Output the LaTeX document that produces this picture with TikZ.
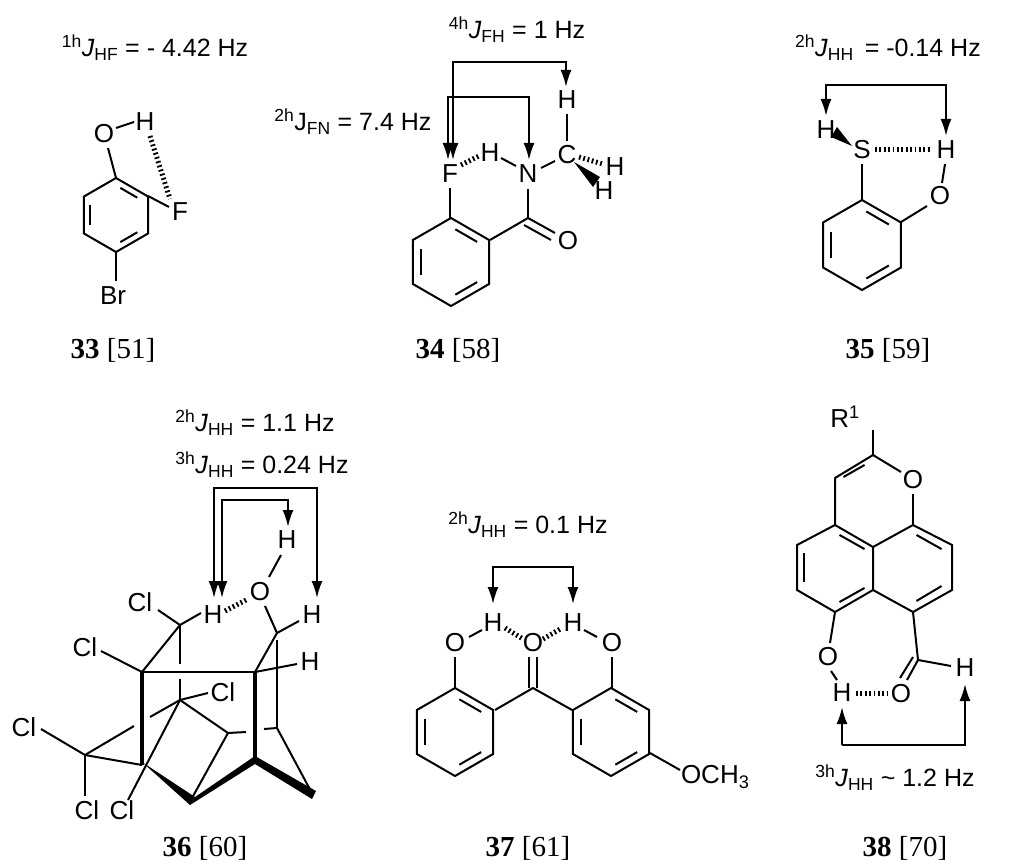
\documentclass[tikz,border=0pt]{standalone}
\usepackage{fontspec}
\setmainfont{Liberation Sans}
\newfontfamily\serif{Liberation Serif}
\usetikzlibrary{arrows.meta}
\newcommand\hexr[4]{%
\draw ({#1+#3*cos(-90)},{#2+#3*sin(-90)}) \foreach \a in {-30,30,90,150,210}{ -- ({#1+#3*cos(\a)},{#2+#3*sin(\a)})} -- cycle;
\foreach \a in {#4}{\draw[shorten <=5pt, shorten >=5pt] ({#1+0.8*#3*cos(\a)},{#2+0.8*#3*sin(\a)}) -- ({#1+0.8*#3*cos(\a+60)},{#2+0.8*#3*sin(\a+60)});}}
\newcommand\Jl[2]{\textsuperscript{#1}\textit{J}\textsubscript{#2}}
\tikzset{atom/.style={inner sep=0pt,font=\fontsize{26}{28}\selectfont},
 lab/.style={inner sep=0pt,font=\fontsize{25}{28}\selectfont},
 cpd/.style={inner sep=0pt,font=\serif\fontsize{29}{32}\selectfont},
 arr/.style={-{Latex[length=17pt,width=11pt]}},
 hash/.style={dash pattern=on 1.8pt off 2.6pt,line width=6pt},
 wedge/.style={fill=black}}
\begin{document}
\begin{tikzpicture}[x=1pt,y=-1pt,line width=2pt]
\useasboundingbox[fill=white] (0,0) rectangle (1024,866);
% ---------- 33
\node[lab] (l33) at (155,48) {\Jl{1h}{HF} = - 4.42 Hz};
\hexr{116}{215}{37}{-90,30,150}
\node[atom] (o33) at (104,134) {O};
\node[atom] (h33) at (145,122) {H};
\node[atom] (f33) at (180,212) {F};
\node[atom] (br33) at (113,296) {Br};
\draw (108,148) -- (116,178);
\draw (116,128) -- (134,122);
\draw (148,196) -- (169,207);
\draw (116,252) -- (116,281);
\draw[hash,line width=5pt] (150,136) -- (170,199);
\node[cpd] (n33) at (113,350) {\textbf{33} [51]};
% ---------- 34
\node[lab] (l34) at (517,30) {\Jl{4h}{FH} = 1 Hz};
\node[lab] (l34b) at (353,122) {\textsuperscript{2h}J\textsubscript{FN} = 7.4 Hz};
\hexr{451}{262}{44}{-90,30,150}
\node[atom] (f34) at (450,174) {F};
\node[atom] (h34) at (490,153) {H};
\node[atom] (n34) at (528,174) {N};
\node[atom] (c34) at (567,155) {C};
\node[atom] (ht34) at (567,100) {H};
\node[atom] (hr34) at (615,167) {H};
\node[atom] (hb34) at (604,191) {H};
\node[atom] (o34) at (568,241) {O};
\draw (450,188) -- (450,218);
\draw (490,240) -- (528,218);
\draw (528,189) -- (528,218);
\draw (528,218) -- (555,233);
\draw (524,225) -- (551,240);
\draw (501,158) -- (516,166);
\draw (541,168) -- (555,161);
\draw (567,114) -- (567,141);
\draw[hash,line width=5pt] (461,165) -- (479,156);
\draw[hash,line width=5pt] (579,157) -- (603,164);
\fill (574,162) -- (600,177) -- (593,187) -- cycle;
\draw[arr] (453,62) -- (566,62) -- (566,87);
\draw[arr] (566,62) -- (453,62) -- (453,160);
\draw[arr] (448,97) -- (529,97) -- (529,160);
\draw[arr] (529,97) -- (448,97) -- (448,160);
\node[cpd] (n34) at (458,350) {\textbf{34} [58]};
% ---------- 35
\node[lab] (l35) at (888,48) {\Jl{2h}{HH}\, = -0.14 Hz};
\hexr{862}{245}{45}{-90,30,150}
\node[atom] (s35) at (862,150) {S};
\node[atom] (hl35) at (826,130) {H};
\node[atom] (hr35) at (946,150) {H};
\node[atom] (o35) at (940,196) {O};
\draw (862,164) -- (862,200);
\draw (901,222) -- (927,206);
\draw (942,183) -- (945,164);
\draw[hash,line width=5pt] (875,150) -- (932,150);
\fill (852,146) -- (831,137) -- (837,127) -- cycle;
\draw[arr] (946,85) -- (826,85) -- (826,116);
\draw[arr] (826,85) -- (946,85) -- (946,136);
\node[cpd] (n35) at (888,350) {\textbf{35} [59]};
% ---------- 36
\node[lab] (l36a) at (255,423) {\Jl{2h}{HH} = 1.1 Hz};
\node[lab] (l36b) at (262,465) {\Jl{3h}{HH} = 0.24 Hz};
\node[atom] (ho36) at (287,540) {H};
\node[atom] (o36) at (260,592) {O};
\node[atom] (hl36) at (213,615) {H};
\node[atom] (hr36) at (312,615) {H};
\node[atom] (hh36) at (310,662) {H};
\node[atom] (cl1) at (140,602) {Cl};
\node[atom] (cl2) at (85,647) {Cl};
\node[atom] (cl3) at (223,692) {Cl};
\node[atom] (cl4) at (24,727) {Cl};
\node[atom] (cl5) at (87,810) {Cl};
\node[atom] (cl6) at (122,810) {Cl};
\draw (281,555) -- (269,577);
\draw (265,606) -- (277,633) -- (299,621);
\draw[hash,line width=5pt] (225,611) -- (248,599);
\draw (180,625) -- (201,613);
\draw (180,625) -- (158,610);
\draw (180,625) -- (142,672);
\draw (180,625) -- (180,664);
\draw (180,679) -- (180,700);
\draw (142,672) -- (101,651);
\draw (142,672) -- (255,672);
\draw[line width=4.5pt] (142,672) -- (142,765);
\draw[line width=4.5pt] (255,672) -- (255,760);
\draw (255,672) -- (277,633);
\draw (255,672) -- (297,664);
\draw (277,640) -- (277,728);
\draw (180,700) -- (208,693);
\draw (180,700) -- (228,733);
\draw (180,700) -- (128,800);
\draw (180,700) -- (150,717);
\draw (134,726) -- (85,755);
\draw (85,755) -- (41,729);
\draw (85,755) -- (85,796);
\draw (85,755) -- (142,765);
\fill (142,762) -- (195,797) -- (190,805) -- cycle;
\fill (190,805) -- (195,797) -- (255,756) -- (255,764) -- cycle;
\draw (192,798) -- (228,733);
\draw (228,733) -- (246,732);
\draw (264,729) -- (277,728);
\fill (255,756) -- (316,791) -- (312,799) -- (255,764) -- cycle;
\draw (277,728) -- (313,795);
\draw[arr] (317,488) -- (214,488) -- (214,598);
\draw[arr] (214,488) -- (317,488) -- (317,598);
\draw[arr] (288,500) -- (222,500) -- (222,598);
\draw[arr] (222,500) -- (288,500) -- (288,527);
\node[cpd] (n36) at (205,848) {\textbf{36} [60]};
% ---------- 37
\node[lab] (l37) at (528,525) {\Jl{2h}{HH} = 0.1 Hz};
\hexr{455}{732}{44}{-90,30,150}
\hexr{611}{732}{44}{-90,30,150}
\node[atom] (h37a) at (493,623) {H};
\node[atom] (h37b) at (573,623) {H};
\node[atom] (o37a) at (455,643) {O};
\node[atom] (o37c) at (533,643) {O};
\node[atom] (o37b) at (612,643) {O};
\node[atom,anchor=west] (ome) at (680,777) {OCH\textsubscript{3}};
\draw (455,657) -- (455,688);
\draw (612,657) -- (612,688);
\draw (469,637) -- (482,630);
\draw (584,630) -- (597,637);
\draw (495,710) -- (533,688) -- (572,710);
\draw (529,688) -- (529,657);
\draw (537,688) -- (537,657);
\draw[hash,line width=5pt] (505,628) -- (523,639);
\draw[hash,line width=5pt] (543,639) -- (562,628);
\draw (650,753) -- (680,770);
\draw[arr] (573,567) -- (493,567) -- (493,604);
\draw[arr] (493,567) -- (573,567) -- (573,604);
\node[cpd] (n37) at (528,848) {\textbf{37} [61]};
% ---------- 38
\node[atom] (r38) at (845,417) {R\textsuperscript{1}};
\node[atom] (o38) at (913,480) {O};
\coordinate (ct) at (873,455);
\coordinate (ch) at (835,478);
\coordinate (A) at (835,525);
\coordinate (B) at (873,547);
\coordinate (C) at (913,525);
\coordinate (D) at (952,545);
\coordinate (E) at (952,590);
\coordinate (F) at (913,612);
\coordinate (G) at (873,590);
\coordinate (H) at (835,612);
\coordinate (I) at (797,590);
\coordinate (J) at (797,545);
\draw (873,430) -- (ct);
\draw (ct) -- (901,472);
\draw (913,494) -- (C);
\draw (ct) -- (ch) -- (A) -- (B) -- (C) -- (D) -- (E) -- (F) -- (G) -- (B);
\draw (G) -- (H) -- (I) -- (J) -- (A);
\draw[shorten <=4pt,shorten >=4pt] (868,463) -- (840,479);
\draw[shorten <=4pt,shorten >=4pt] (836,533) -- (868,551);
\draw[shorten <=4pt,shorten >=4pt] (913,533) -- (945,551);
\draw[shorten <=4pt,shorten >=4pt] (945,584) -- (913,603);
\draw[shorten <=4pt,shorten >=4pt] (868,586) -- (836,604);
\draw[shorten <=4pt,shorten >=4pt] (804,549) -- (804,586);
\node[atom] (oh38) at (828,657) {O};
\node[atom] (h38) at (842,693) {H};
\node[atom] (oa38) at (901,694) {O};
\node[atom] (ha38) at (965,668) {H};
\coordinate (cald) at (918,660);
\draw (H) -- (830,643);
\draw (831,671) -- (837,680);
\draw (F) -- (cald) -- (951,666);
\draw (cald) -- (907,680);
\draw (913,657) -- (900,678);
\draw[hash,line width=5pt] (856,693) -- (887,693);
\draw[arr] (842,745) -- (842,707);
\draw[arr] (842,745) -- (965,745) -- (965,684);
\node[lab] (l38) at (895,778) {\Jl{3h}{HH} \textasciitilde{} 1.2 Hz};
\node[cpd] (n38) at (905,848) {\textbf{38} [70]};
\end{tikzpicture}
\end{document}
